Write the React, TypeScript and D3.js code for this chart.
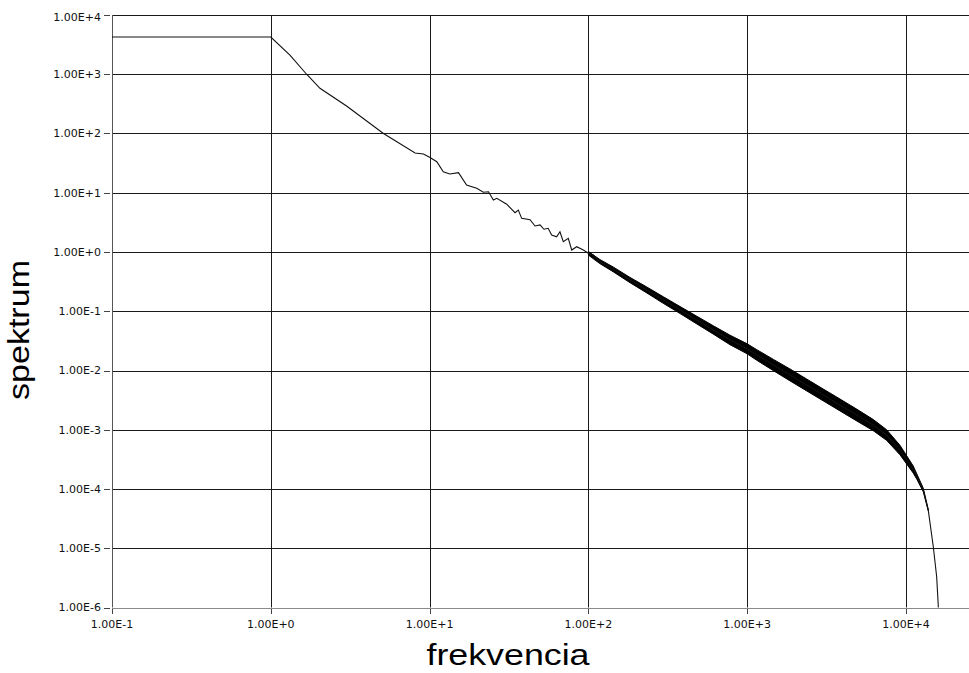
import React from 'react';
import * as d3 from 'd3';

// x ticks (frequency) and y ticks (spectrum)
const xTickValues = [1e-1, 1e0, 1e1, 1e2, 1e3, 1e4];
const xTickLabels = ['1.00E-1', '1.00E+0', '1.00E+1', '1.00E+2', '1.00E+3', '1.00E+4'];
const yTickValues = [1e4, 1e3, 1e2, 1e1, 1e0, 1e-1, 1e-2, 1e-3, 1e-4, 1e-5, 1e-6];
const yTickLabels = ['1.00E+4', '1.00E+3', '1.00E+2', '1.00E+1', '1.00E+0', '1.00E-1', '1.00E-2', '1.00E-3', '1.00E-4', '1.00E-5', '1.00E-6'];

// centre of the spectrum trace
const specFreq = [
  0.1, 1, 1.32, 1.68, 2.04, 3.0, 5.12, 5.9, 8.1, 9.14, 10, 11.1, 12.2, 13.4, 15.2, 17.1, 19.8,
  21.8, 23.5, 25.2, 26.5, 30.6, 34.5, 36.2, 38.0, 42.9, 46.1, 49.6, 52.5, 55.8, 58.7, 63.1,
  66.2, 69.5, 74.7, 78.5, 84.4, 92.9, 100, 107, 118, 143, 183, 233, 296, 378, 481, 612, 780,
  1000, 1148, 1462, 1862, 2371, 3015, 3840, 4890, 6220, 7550, 9160, 10100, 11100, 11700,
  12850, 13800, 14850, 15600, 15960, 16150,
];
const specValue = [
  4250, 4250, 2110, 1000, 580, 291, 100, 79, 47, 45, 39.6, 33.4, 22.6, 20.7, 21.8, 13.5, 11.9,
  10.2, 10.4, 7.55, 8.06, 6.4, 4.6, 5.11, 3.7, 3.5, 2.75, 2.86, 2.42, 2.51, 1.94, 1.81,
  2.2, 1.49, 1.7, 1.08, 1.23, 1.08, 0.95, 0.89, 0.69, 0.51, 0.336, 0.229, 0.155, 0.105, 0.0711,
  0.0483, 0.0327, 0.0232, 0.0183, 0.0124, 0.0084, 0.00569, 0.00386, 0.00262, 0.00177, 0.0012,
  0.000815, 0.000455, 0.00031, 0.000214, 0.000162, 0.0000962, 0.0000443, 0.0000107, 0.0000033,
  0.0000011, 0.0000003,
];

// envelope of the noisy part of the trace
const bandFreq = [
  100, 118, 143, 183, 233, 296, 378, 481, 612, 780, 1000, 1148, 1462, 1862, 2371, 3015, 3840,
  4890, 6220, 7550, 9160, 10100, 11100, 11700, 12850, 13800,
];
const bandHigh = [
  1.02, 0.748, 0.56, 0.372, 0.257, 0.176, 0.12, 0.0826, 0.0568, 0.0394, 0.0282, 0.0225, 0.0154,
  0.0106, 0.00716, 0.00486, 0.0033, 0.00223, 0.00149, 0.001, 0.000547, 0.000364, 0.000245,
  0.00018, 0.000103, 0.0000453,
];
const bandLow = [
  0.887, 0.637, 0.466, 0.303, 0.204, 0.136, 0.0914, 0.0612, 0.0411, 0.0272, 0.0191, 0.0149,
  0.00995, 0.00667, 0.00452, 0.00307, 0.00208, 0.00141, 0.000964, 0.000662, 0.000378, 0.000264,
  0.000186, 0.000146, 0.0000897, 0.0000433,
];

const W = 969;
const H = 673;
const left = 112;
const top = 15;
const bottom = 607.5;
const right = 969;

export default function App() {
  const x = d3.scaleLog().domain([1e-1, 1e4]).range([left, 906]);
  const y = d3.scaleLog().domain([1e-6, 1e4]).range([bottom, top]);

  const lineData = specFreq.map((f, i) => [f, specValue[i]] as [number, number]);
  const line = d3
    .line<[number, number]>()
    .x((d) => x(d[0]))
    .y((d) => y(d[1]));

  const bandData = bandFreq.map((f, i) => ({ f, lo: bandLow[i], hi: bandHigh[i] }));
  const area = d3
    .area<{ f: number; lo: number; hi: number }>()
    .x((d) => x(d.f))
    .y0((d) => y(d.lo))
    .y1((d) => y(d.hi));

  const tickFont = "'DejaVu Sans', sans-serif";

  return (
    <svg
      width={W}
      height={H}
      style={{ position: 'absolute', left: 0, top: 0, background: '#fff' }}
    >
      <defs>
        <clipPath id="plotClip">
          <rect x={left} y={top - 1} width={right - left} height={bottom - top + 1} />
        </clipPath>
      </defs>
      <rect x={0} y={0} width={W} height={H} fill="#fff" />

      {/* horizontal grid */}
      {yTickValues.map((v, i) => (
        <line
          key={'hg' + i}
          x1={left}
          x2={right}
          y1={Math.round(y(v)) + 0.5}
          y2={Math.round(y(v)) + 0.5}
          stroke={i === yTickValues.length - 1 ? '#8a8a8a' : '#1a1a1a'}
          strokeWidth={1}
        />
      ))}
      {/* vertical grid */}
      {xTickValues.map((v, i) => (
        <line
          key={'vg' + i}
          x1={Math.round(x(v)) + 0.5}
          x2={Math.round(x(v)) + 0.5}
          y1={top}
          y2={bottom}
          stroke={i === 0 ? '#555' : '#1a1a1a'}
          strokeWidth={1}
        />
      ))}

      {/* y tick marks and labels */}
      {yTickValues.map((v, i) => (
        <g key={'yt' + i}>
          <line
            x1={104}
            x2={110}
            y1={Math.round(y(v)) + 0.5}
            y2={Math.round(y(v)) + 0.5}
            stroke="#444"
          />
          <text
            x={101}
            y={y(v) + (i === 0 ? 2 : 0)}
            dy="0.35em"
            textAnchor="end"
            fontFamily={tickFont}
            fontSize={11}
            fill="#111"
          >
            {yTickLabels[i]}
          </text>
        </g>
      ))}

      {/* x tick marks and labels */}
      {xTickValues.map((v, i) => (
        <g key={'xt' + i}>
          <line
            x1={Math.round(x(v)) + 0.5}
            x2={Math.round(x(v)) + 0.5}
            y1={609}
            y2={614}
            stroke="#444"
          />
          <text
            x={x(v)}
            y={628}
            textAnchor="middle"
            fontFamily={tickFont}
            fontSize={11}
            fill="#111"
          >
            {xTickLabels[i]}
          </text>
        </g>
      ))}

      {/* data */}
      <g clipPath="url(#plotClip)">
        <path d={area(bandData) || ''} fill="#000" stroke="#000" strokeWidth={1} />
        <path d={line(lineData) || ''} fill="none" stroke="#111" strokeWidth={1.1} />
      </g>

      {/* axis titles */}
      <text
        x={508}
        y={665}
        textAnchor="middle"
        fontFamily="'Liberation Sans', Arial, sans-serif"
        fontSize={30}
        textLength={163}
        lengthAdjust="spacingAndGlyphs"
        fill="#000"
      >
        frekvencia
      </text>
      <text
        transform="translate(29,330) rotate(-90)"
        textAnchor="middle"
        fontFamily="'Liberation Sans', Arial, sans-serif"
        fontSize={29}
        textLength={140}
        lengthAdjust="spacingAndGlyphs"
        fill="#000"
      >
        spektrum
      </text>
    </svg>
  );
}
